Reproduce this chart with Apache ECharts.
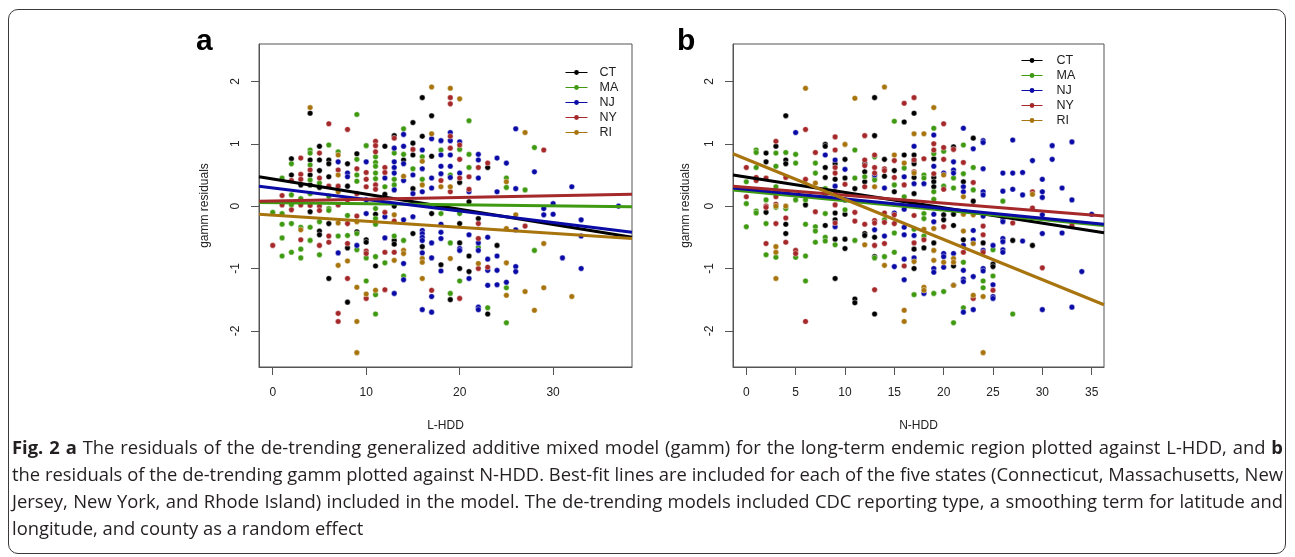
<!DOCTYPE html>
<html><head><meta charset="utf-8">
<script src="https://cdn.jsdelivr.net/npm/echarts@6/dist/echarts.min.js"></script>
<style>
html,body{margin:0;padding:0;background:#fff;}
#wrap{position:relative;width:1295px;height:557px;overflow:hidden;background:#fff;}
#chart{position:absolute;left:0;top:0;width:1295px;height:557px;}
#frame{position:absolute;left:8px;top:9px;width:1276px;height:543px;border:1.5px solid #3a3a3a;border-radius:10px;pointer-events:none;}
#caption{position:absolute;left:12px;top:433px;width:1271px;font-family:'Open Sans',sans-serif;font-size:18.4px;line-height:27px;color:#231f20;}
#caption .j{text-align:justify;text-align-last:justify;}
#caption b{font-weight:700;}
</style>
</head><body>
<div id="wrap">
<div id="chart"></div>
<div id="frame"></div>
<div id="caption">
<div class="j"><b>Fig. 2</b> <b>a</b> The residuals of the de-trending generalized additive mixed model (gamm) for the long-term endemic region plotted against L-HDD, and <b>b</b></div>
<div class="j">the residuals of the de-trending gamm plotted against N-HDD. Best-fit lines are included for each of the five states (Connecticut, Massachusetts, New</div>
<div class="j">Jersey, New York, and Rhode Island) included in the model. The de-trending models included CDC reporting type, a smoothing term for latitude and</div>
<div>longitude, and county as a random effect</div>
</div>
</div>
<script>
// ---------- data ----------
const states = ['CT', 'MA', 'NJ', 'NY', 'RI'];
const stateColors = ['#000000', '#3f9a12', '#0a0aa6', '#a5282a', '#a8740e'];

const xTicksA = [0, 10, 20, 30];
const xTicksB = [0, 5, 10, 15, 20, 25, 30, 35];
const yTicks = [-2, -1, 0, 1, 2];

// Panel a: residuals vs L-HDD  ([L-HDD, residual])
const aCT = [[2,0.76],[2,0.5],[3,0.34],[4,1.49],[4,0.74],[4,0.5],[4,0.34],[4,-0.09],[5,0.96],[5,0.74],[5,0.57],[5,0.3],[5,-0.4],[5,-0.46],[6,0.74],[6,0.68],[6,0.47],[6,-0.28],[6,-1.16],[8,0.68],[8,0.32],[8,-0.67],[8,-1.54],[9,0.84],[9,-0.41],[10,-0.54],[10,-0.58],[11,-0.13],[11,-0.96],[12,0.96],[12,0.19],[13,1.13],[13,0.0],[13,-0.55],[13,-0.61],[14,0.74],[15,1.34],[15,1.01],[15,0.82],[15,0.28],[15,-0.44],[16,1.74],[16,1.12],[16,-0.65],[17,1.45],[17,0.8],[17,-0.12],[18,-0.94],[19,-1.5],[20,0.38],[20,-0.28],[20,-0.59],[20,-1.0],[21,0.07],[21,-0.8],[21,-1.05],[22,-0.2],[23,0.62],[23,-1.73],[24,-0.63]];
const aMA = [[0,-0.1],[1,0.45],[1,-0.12],[1,-0.29],[1,-0.51],[1,-0.8],[2,0.68],[2,0.18],[2,0.02],[2,-0.28],[2,-0.74],[3,0.12],[3,-0.34],[3,-0.69],[3,-0.83],[4,0.9],[4,0.85],[4,0.66],[4,0.42],[4,0.2],[4,-0.34],[4,-0.55],[5,0.37],[5,-0.25],[5,-0.78],[6,0.98],[6,0.16],[6,-0.04],[6,-0.07],[7,0.87],[7,-0.48],[8,-0.15],[8,-0.47],[9,1.47],[9,0.75],[9,0.5],[9,0.4],[9,-0.44],[9,-0.7],[10,0.97],[10,-0.83],[10,-1.2],[11,0.79],[11,0.7],[11,0.64],[11,0.53],[11,0.44],[11,-0.04],[11,-0.2],[11,-0.29],[11,-0.81],[11,-1.42],[11,-1.73],[12,0.31],[12,-0.91],[13,0.85],[13,0.43],[13,0.34],[13,-0.48],[14,1.24],[14,0.83],[14,-0.55],[14,-1.12],[15,0.6],[16,0.79],[16,0.43],[18,0.9],[18,-0.12],[19,0.5],[19,-0.59],[19,-1.4],[20,0.91],[20,-0.12],[20,-1.2],[21,1.37],[21,0.83],[21,0.62],[22,-0.66],[23,-1.63],[25,0.45],[25,0.3],[25,-1.31],[25,-1.87],[27,0.26],[28,0.94],[28,-0.71]];
const aNJ = [[7,0.71],[7,-0.75],[8,0.53],[8,0.47],[9,-0.63],[10,0.71],[10,0.1],[10,-0.12],[12,0.45],[12,-0.17],[12,-0.51],[13,0.93],[13,0.71],[13,0.62],[13,0.53],[13,0.26],[13,-1.4],[14,1.15],[14,0.96],[14,0.68],[14,0.41],[14,-0.22],[14,-0.92],[14,-1.18],[15,0.5],[15,0.2],[15,-0.17],[16,0.9],[16,0.6],[16,0.23],[16,-0.39],[16,-0.44],[16,-0.5],[16,-0.55],[16,-0.75],[16,-1.66],[17,1.08],[17,0.45],[17,0.29],[17,-0.59],[17,-0.83],[17,-1.45],[17,-1.7],[18,1.05],[18,0.82],[18,0.64],[18,0.52],[18,-0.29],[18,-0.42],[18,-0.52],[18,-1.04],[19,1.18],[19,1.05],[19,0.82],[19,0.64],[19,0.46],[20,1.03],[20,0.53],[20,-0.68],[20,-0.71],[21,0.23],[21,-0.46],[21,-1.16],[22,0.83],[22,0.74],[22,0.45],[22,-0.59],[22,-0.71],[22,-1.62],[22,-1.66],[23,-0.5],[23,-0.85],[23,-1.03],[23,-1.27],[24,0.77],[24,0.23],[24,-0.8],[24,-1.03],[24,-1.26],[25,0.69],[25,-1.22],[26,1.24],[26,0.28],[26,-0.38],[26,-0.97],[26,-1.05],[28,0.55],[29,-0.04],[29,-0.14],[30,0.04],[30,-0.13],[31,-0.83],[32,0.31],[33,-0.22],[33,-0.48],[33,-1.0],[37,0.0]];
const aNY = [[0,-0.63],[1,0.17],[1,0.02],[2,0.41],[2,-0.06],[3,0.77],[3,0.51],[3,0.43],[3,0.02],[3,-0.54],[4,0.58],[4,0.01],[5,0.85],[5,0.45],[5,0.0],[5,-0.07],[5,-0.63],[6,1.32],[6,0.32],[6,-0.48],[6,-0.58],[7,0.58],[7,0.32],[7,0.02],[7,-1.72],[7,-1.85],[8,1.23],[8,0.1],[8,-0.28],[8,-0.6],[8,-1.16],[9,0.6],[9,0.2],[9,-0.16],[10,0.54],[10,0.43],[10,0.31],[10,-0.72],[10,-0.76],[10,-1.48],[11,1.04],[11,0.97],[11,0.87],[11,0.34],[11,0.27],[12,0.62],[12,0.54],[12,-0.1],[12,-0.74],[12,-1.34],[13,1.09],[13,-0.24],[13,-0.74],[15,0.91],[17,-1.35],[18,0.41],[19,1.74],[19,1.64],[19,1.12],[19,0.93],[19,0.23],[20,0.98],[20,0.75],[20,0.45],[20,-1.48],[21,0.47],[21,0.27],[22,0.62],[22,-0.28],[22,-0.52],[22,-1.0],[23,0.69],[23,-0.98],[27,-0.32],[29,0.9]];
const aRI = [[3,-0.38],[4,1.58],[7,0.82],[7,0.5],[7,0.23],[7,-0.27],[7,-0.95],[8,-0.88],[9,-0.25],[9,-1.3],[9,-1.85],[9,-2.35],[10,-1.41],[11,-1.35],[13,-0.14],[13,-0.87],[14,0.48],[14,-0.71],[14,-0.76],[16,0.72],[16,0.34],[16,-0.84],[16,-0.9],[16,-1.16],[17,1.91],[17,1.16],[18,0.31],[19,1.89],[19,0.31],[19,-0.84],[20,1.72],[22,-0.92],[25,0.39],[25,-0.36],[25,-0.91],[25,-1.43],[26,-0.14],[27,1.18],[27,-1.37],[28,-1.67],[29,-0.6],[29,-1.31],[32,-1.45]];

// Panel b: residuals vs N-HDD  ([N-HDD, residual])
const bCT = [[2,0.85],[2,0.71],[2,-0.1],[3,0.96],[4,1.45],[4,0.74],[4,0.68],[4,-0.29],[4,-0.44],[6,0.02],[8,0.99],[8,0.96],[8,0.62],[8,0.46],[8,-0.31],[9,0.68],[9,0.43],[9,-0.11],[9,-0.22],[9,-0.53],[9,-1.16],[10,0.75],[10,0.45],[10,0.1],[10,-0.13],[10,-0.53],[10,-0.68],[11,0.28],[11,-1.49],[11,-1.55],[12,0.68],[12,0.55],[12,0.39],[12,-0.44],[12,-0.47],[13,1.74],[13,1.13],[13,-0.5],[13,-0.81],[13,-1.73],[14,0.75],[14,0.48],[15,0.57],[15,0.23],[16,1.35],[16,0.82],[17,1.49],[17,0.82],[17,0.74],[17,0.68],[17,0.46],[17,0.2],[17,-0.69],[17,-1.0],[18,-0.67],[19,0.76],[19,0.46],[19,0.39],[19,0.31],[19,-0.59],[20,-0.14],[20,-0.22],[21,0.95],[21,-0.13],[21,-0.31],[21,-0.96],[22,0.39],[22,-0.54],[23,1.09],[23,0.08],[24,-0.59],[25,-0.93],[25,-0.97],[27,-0.55],[29,-0.63]];
const bMA = [[0,0.39],[0,0.04],[0,-0.33],[1,0.9],[1,0.86],[1,0.62],[1,-0.08],[1,-0.11],[2,0.1],[2,-0.28],[2,-0.78],[3,0.85],[3,0.64],[3,0.31],[3,-0.02],[3,-0.82],[4,0.86],[4,-0.04],[5,0.83],[5,0.69],[5,0.1],[5,-0.82],[6,0.1],[6,-0.29],[6,-0.8],[6,-1.2],[7,0.69],[7,0.53],[7,-0.33],[7,-0.4],[7,-0.58],[8,0.28],[8,0.16],[8,-0.12],[8,-0.5],[8,-0.56],[9,-0.62],[10,-0.06],[11,0.9],[11,0.45],[11,-0.55],[12,0.47],[13,0.79],[13,0.46],[13,0.42],[13,-0.83],[14,-0.22],[14,-0.81],[15,1.36],[15,0.34],[15,-0.43],[15,-0.74],[16,0.61],[16,0.15],[17,-0.37],[17,-1.42],[18,0.5],[18,0.45],[18,-0.12],[18,-0.2],[18,-0.48],[19,1.25],[19,0.84],[19,0.23],[19,0.11],[19,-1.4],[20,0.88],[20,0.32],[20,-1.37],[21,0.45],[21,0.29],[21,-1.87],[22,0.98],[22,0.52],[22,-0.9],[22,-1.63],[23,0.62],[23,0.26],[24,-1.2],[24,-1.31],[25,-0.7],[25,-1.12],[26,0.08],[27,-1.73]];
const bNJ = [[5,1.18],[8,0.82],[9,0.74],[9,0.32],[9,-0.33],[10,0.59],[13,0.5],[13,-0.38],[14,0.29],[14,-0.48],[15,-0.11],[15,-0.97],[16,0.47],[16,-0.05],[16,-0.34],[16,-0.46],[16,-0.85],[16,-1.18],[17,0.96],[17,0.36],[17,-0.47],[17,-0.83],[18,0.36],[18,-1.4],[19,1.14],[19,0.64],[19,-0.13],[19,-0.25],[19,-1.0],[19,-1.06],[20,0.53],[20,-0.76],[20,-0.81],[20,-0.98],[21,0.71],[21,0.58],[21,0.53],[21,-0.76],[21,-1.27],[22,1.25],[22,0.31],[22,0.23],[22,-0.63],[22,-1.03],[22,-1.17],[22,-1.21],[22,-1.7],[23,0.92],[23,-0.39],[23,-0.54],[23,-1.13],[23,-1.66],[24,1.05],[24,1.02],[24,0.6],[24,0.23],[24,0.18],[24,-0.16],[24,-0.71],[24,-1.0],[24,-1.04],[25,-0.63],[25,-1.26],[25,-1.45],[25,-1.48],[26,0.53],[26,0.24],[26,-0.22],[26,-0.25],[26,-0.52],[26,-0.57],[26,-0.7],[26,-0.74],[27,1.06],[27,0.53],[27,0.27],[28,0.54],[28,0.18],[28,-0.56],[29,0.73],[30,0.43],[30,0.23],[30,0.14],[30,-0.14],[30,-0.44],[30,-1.66],[31,0.97],[31,0.75],[32,0.29],[32,-0.43],[33,1.03],[33,0.1],[33,-1.62],[34,-1.05],[35,-0.13]];
const bNY = [[0,0.62],[0,0.15],[1,0.46],[1,0.41],[2,0.45],[2,0.0],[2,-0.02],[2,-0.6],[3,1.04],[3,0.15],[3,0.03],[3,-0.28],[4,0.46],[4,-0.19],[4,-0.58],[5,-0.71],[5,-0.76],[6,1.23],[6,0.43],[6,-1.85],[7,0.86],[7,-0.09],[9,1.11],[9,0.9],[9,0.62],[9,0.53],[9,0.23],[9,0.02],[9,-0.27],[10,0.35],[11,-0.1],[11,-0.24],[12,1.13],[12,0.74],[12,0.65],[12,0.31],[12,-0.29],[13,0.82],[13,0.62],[13,0.53],[13,-0.23],[13,-0.27],[13,-0.63],[13,-1.34],[14,0.6],[14,0.57],[14,-0.11],[14,-0.26],[14,-0.6],[15,0.73],[15,0.46],[15,-0.14],[15,-0.28],[16,1.65],[16,0.34],[16,-0.96],[17,1.74],[17,0.74],[17,0.55],[17,-0.15],[17,-0.59],[18,0.76],[18,-0.54],[19,1.0],[19,0.9],[19,0.52],[20,1.32],[20,0.94],[20,0.75],[20,0.27],[20,-0.33],[21,0.91],[22,0.7],[22,-0.74],[23,0.38],[23,-1.48],[24,-0.32],[24,-0.46],[24,-0.74],[25,-1.35],[27,-0.27],[29,0.23],[29,-0.03],[30,-0.99],[33,-0.31]];
const bRI = [[3,0.0],[3,-0.65],[3,-0.74],[3,-1.16],[4,0.0],[6,1.89],[7,0.37],[10,0.99],[11,1.73],[12,-0.62],[13,0.31],[14,1.91],[14,-0.95],[15,0.82],[16,0.69],[16,-1.67],[16,-1.85],[17,1.16],[17,0.53],[17,-0.89],[18,1.16],[18,-0.37],[18,-1.3],[18,-1.35],[19,1.58],[19,-0.36],[19,-0.71],[19,-0.87],[20,0.5],[20,-0.9],[21,-0.84],[21,-0.9],[21,-1.27],[22,0.15],[22,-0.13],[22,-0.4],[23,-0.14],[23,-0.6],[23,-1.43],[24,-1.45],[24,-2.35],[29,0.19]];

// Best-fit lines (intercept, slope) per state, order as `states`
const fitA_intercept = [0.434, 0.057, 0.293, 0.084, -0.144];
const fitA_slope     = [-0.0243, -0.00175, -0.01854, 0.00276, -0.00977];
const fitB_intercept = [0.467, 0.240, 0.269, 0.303, 0.753];
const fitB_slope     = [-0.0247, -0.01516, -0.01543, -0.01277, -0.0644];

// ---------- chart ----------
const FONT = 'Liberation Sans, Arial, Helvetica, sans-serif';
const pointsA = [aCT, aMA, aNJ, aNY, aRI];
const pointsB = [bCT, bMA, bNJ, bNY, bRI];
const xRangeA = [-1.47, 38.44];
const xRangeB = [-1.35, 36.25];
const yRange = [-2.58, 2.6];
const axisColor = '#555';
const textColor = '#222';

function xAxis(gi, range, ticks, name) {
  return {
    gridIndex: gi, type: 'value', min: range[0], max: range[1],
    name: name, nameLocation: 'middle', nameGap: 53,
    nameTextStyle: {fontFamily: FONT, fontSize: 12, color: textColor},
    axisLine: {show: true, onZero: false, lineStyle: {color: axisColor, width: 1}},
    axisTick: {show: true, length: 8, customValues: ticks, lineStyle: {color: axisColor, width: 1}},
    axisLabel: {customValues: ticks, margin: 20, fontFamily: FONT, fontSize: 12, color: textColor},
    splitLine: {show: false}
  };
}
function yAxis(gi, nameGap) {
  return {
    gridIndex: gi, type: 'value', min: yRange[0], max: yRange[1],
    name: 'gamm residuals', nameLocation: 'middle', nameGap: nameGap, nameRotate: 90,
    nameTextStyle: {fontFamily: FONT, fontSize: 12, color: textColor},
    axisLine: {show: true, onZero: false, lineStyle: {color: axisColor, width: 1}},
    axisTick: {show: true, length: 8, customValues: yTicks, lineStyle: {color: axisColor, width: 1}},
    axisLabel: {customValues: yTicks, rotate: 90, margin: 17, fontFamily: FONT, fontSize: 12, color: textColor},
    splitLine: {show: false}
  };
}

const series = [];
[[fitA_intercept, fitA_slope, xRangeA], [fitB_intercept, fitB_slope, xRangeB]].forEach(function (f, p) {
  states.forEach(function (s, i) {
    const a = f[0][i], b = f[1][i], r = f[2];
    series.push({
      type: 'line', name: s, xAxisIndex: p, yAxisIndex: p,
      data: [[r[0], a + b * r[0]], [r[1], a + b * r[1]]],
      symbol: 'circle', symbolSize: 5, showSymbol: false, silent: true,
      lineStyle: {color: stateColors[i], width: 3},
      itemStyle: {color: stateColors[i]},
      emphasis: {disabled: true}, z: 5, animation: false
    });
  });
});
[pointsA, pointsB].forEach(function (pts, p) {
  states.forEach(function (s, i) {
    series.push({
      type: 'scatter', name: s, xAxisIndex: p, yAxisIndex: p,
      data: pts[i], symbol: 'circle', symbolSize: 5.6, silent: true,
      itemStyle: {color: stateColors[i], borderColor: 'rgba(255,255,255,0.7)', borderWidth: 0.6, opacity: 1},
      emphasis: {disabled: true}, z: 3, animation: false
    });
  });
});

function legend(left, top, w, pad) {
  return {
    data: states, orient: 'vertical', left: left, top: top,
    itemWidth: w, itemHeight: 6, itemGap: 0, selectedMode: false,
    lineStyle: {width: 1}, padding: 0,
    textStyle: {fontFamily: FONT, fontSize: 12.5, color: textColor, lineHeight: 15, padding: [0, 0, 0, pad]}
  };
}

const option = {
  animation: false,
  backgroundColor: 'transparent',
  grid: [
    {left: 259, top: 44, width: 373, height: 323, show: true, borderColor: axisColor, borderWidth: 1, backgroundColor: 'transparent'},
    {left: 733, top: 44, width: 371, height: 323, show: true, borderColor: axisColor, borderWidth: 1, backgroundColor: 'transparent'}
  ],
  xAxis: [xAxis(0, xRangeA, xTicksA, 'L-HDD'), xAxis(1, xRangeB, xTicksB, 'N-HDD')],
  yAxis: [yAxis(0, 48), yAxis(1, 41)],
  legend: [legend(565, 65, 22, 7), legend(1021, 53, 21, 9)],
  graphic: [
    {type: 'text', left: 196, top: 27, style: {text: 'a', font: 'bold 30px ' + FONT, fill: '#000'}},
    {type: 'text', left: 677, top: 27, style: {text: 'b', font: 'bold 30px ' + FONT, fill: '#000'}}
  ],
  series: series
};
const chart = echarts.init(document.getElementById('chart'));
chart.setOption(option);
</script>
</body></html>
